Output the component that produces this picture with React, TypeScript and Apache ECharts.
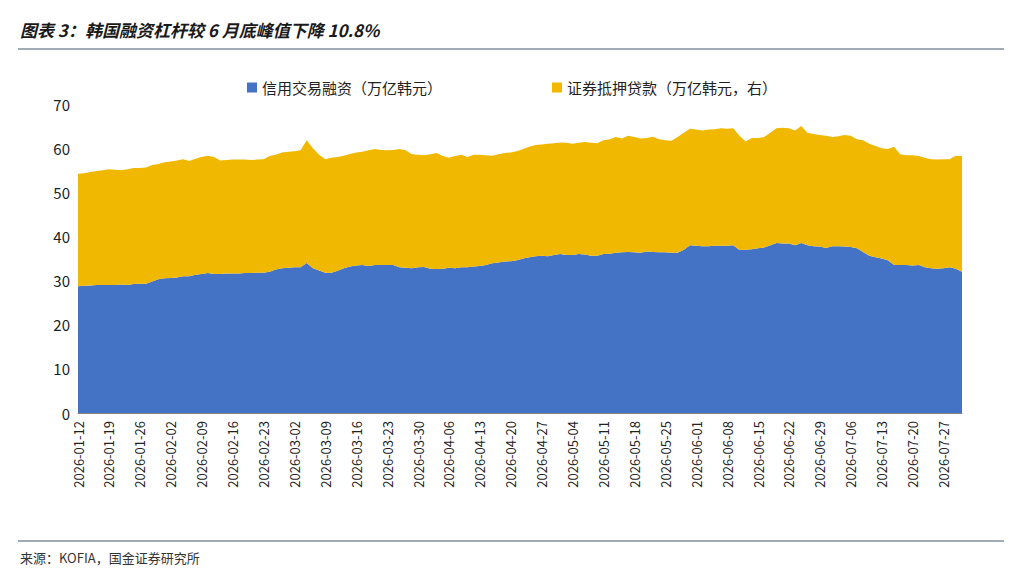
import { useEffect, useRef } from 'react';
import * as echarts from 'echarts';

// 融资余额（万亿韩元），按交易日（工作日）
const blueValues = [
  28.7, 28.8, 28.9, 29, 29,
  29, 29, 29.1, 29, 29.2,
  29.3, 29.3, 29.8, 30.3, 30.5,
  30.6, 30.7, 31, 31, 31.3,
  31.5, 31.7, 31.5, 31.5, 31.6,
  31.6, 31.6, 31.7, 31.7, 31.8,
  31.8, 32, 32.5, 32.8, 32.9,
  33, 33, 34, 32.8, 32.3,
  31.8, 31.8, 32.2, 32.8, 33.2,
  33.4, 33.5, 33.3, 33.5, 33.5,
  33.5, 33.5, 33, 32.9, 32.8,
  33, 33.1, 32.7, 32.6, 32.7,
  32.9, 32.8, 33, 33, 33.2,
  33.3, 33.5, 33.9, 34.1, 34.3,
  34.4, 34.6, 35, 35.3, 35.5,
  35.6, 35.5, 35.8, 36, 35.8,
  35.8, 36, 35.9, 35.6, 35.6,
  36, 36.1, 36.3, 36.4, 36.5,
  36.4, 36.3, 36.6, 36.5, 36.4,
  36.4, 36.3, 36.3, 37, 38,
  37.9, 37.8, 37.8, 37.9, 37.9,
  37.9, 38, 36.9, 37, 37.1,
  37.3, 37.5, 38, 38.5, 38.4,
  38.4, 38, 38.5, 38, 37.8,
  37.7, 37.4, 37.8, 37.8, 37.7,
  37.6, 37.3, 36.5, 35.6, 35.3,
  35, 34.6, 33.5, 33.5, 33.5,
  33.4, 33.5, 33, 32.8, 32.7,
  32.8, 33, 32.7, 32,
];

// 融资 + 证券抵押贷款合计（万亿韩元）
const totalValues = [
  54.2, 54.3, 54.6, 54.8, 55,
  55.2, 55.1, 55, 55.2, 55.5,
  55.5, 55.6, 56.2, 56.4, 56.8,
  57, 57.2, 57.5, 57.1, 57.6,
  58, 58.3, 58, 57.2, 57.3,
  57.4, 57.4, 57.4, 57.3, 57.4,
  57.5, 58.2, 58.5, 59, 59.2,
  59.3, 59.5, 61.8, 60, 58.5,
  57.5, 57.8, 58, 58.3, 58.7,
  59, 59.2, 59.5, 59.8, 59.6,
  59.5, 59.6, 59.8, 59.5, 58.6,
  58.5, 58.4, 58.6, 58.9, 58.2,
  57.8, 58.2, 58.5, 58, 58.5,
  58.5, 58.4, 58.3, 58.6, 58.9,
  59, 59.3, 59.8, 60.3, 60.7,
  60.8, 61, 61.1, 61.3, 61.2,
  61, 61.2, 61.4, 61.2, 61.1,
  61.8, 62, 62.5, 62.2, 62.8,
  62.5, 62.2, 62.3, 62.6, 62,
  61.8, 61.7, 62.5, 63.5, 64.4,
  64.2, 64, 64.2, 64.3, 64.5,
  64.4, 64.5, 62.8, 61.5, 62.3,
  62.3, 62.5, 63.5, 64.5, 64.6,
  64.5, 64, 65, 63.5, 63.2,
  63, 62.8, 62.5, 62.7, 63,
  62.8, 62, 61.8, 61, 60.5,
  60, 59.8, 60.3, 58.6, 58.4,
  58.4, 58.2, 57.8, 57.5, 57.4,
  57.5, 57.5, 58.3, 58.2,
];

const yellowValues = totalValues.map((t, i) => +(t - blueValues[i]).toFixed(2));

const pad = (n: number) => String(n).padStart(2, '0');
const categories: string[] = [];
{
  const d = new Date(Date.UTC(2026, 0, 12));
  while (categories.length < blueValues.length) {
    const wd = d.getUTCDay();
    if (wd !== 0 && wd !== 6) {
      categories.push(`${d.getUTCFullYear()}-${pad(d.getUTCMonth() + 1)}-${pad(d.getUTCDate())}`);
    }
    d.setUTCDate(d.getUTCDate() + 1);
  }
}

const FONT = '"Noto Sans CJK SC", "Noto Sans", sans-serif';

export default function App() {
  const ref = useRef<HTMLDivElement | null>(null);

  useEffect(() => {
    document.body.style.margin = '0';
    if (!ref.current) return undefined;
    const chart = echarts.init(ref.current, undefined, { renderer: 'svg' });
    chart.setOption({
      animation: false,
      backgroundColor: '#fff',
      textStyle: { fontFamily: FONT },
      graphic: [
        { type: 'text', left: 20, top: 21, style: { text: '图表 3：韩国融资杠杆较 6 月底峰值下降 10.8%', fontSize: 17, fontWeight: 'bold', fontStyle: 'italic', fill: '#1a1a1a', fontFamily: FONT } },
        { type: 'line', shape: { x1: 18, y1: 49, x2: 1004, y2: 49 }, style: { stroke: '#44546a', lineWidth: 1 } },
        { type: 'line', shape: { x1: 18, y1: 541, x2: 1004, y2: 541 }, style: { stroke: '#44546a', lineWidth: 1 } },
        { type: 'text', left: 20, top: 551, style: { text: '来源：KOFIA，国金证券研究所', fontSize: 13, fill: '#333', fontFamily: FONT } },
      ],
      legend: {
        top: 75,
        left: 'center',
        itemWidth: 10,
        itemHeight: 10,
        itemGap: 110,
        icon: 'rect',
        textStyle: { fontSize: 15, color: '#222' },
        data: ['信用交易融资（万亿韩元）', '证券抵押贷款（万亿韩元，右）'],
      },
      grid: { left: 78, right: 62, top: 104, bottom: 163 },
      xAxis: {
        type: 'category',
        data: categories,
        boundaryGap: false,
        axisLine: { lineStyle: { color: '#888' } },
        axisTick: { show: false },
        axisLabel: { interval: 4, rotate: 90, fontSize: 13, color: '#222' },
      },
      yAxis: {
        type: 'value',
        min: 0,
        max: 70,
        interval: 10,
        axisLine: { show: false },
        axisTick: { show: false },
        splitLine: { show: false },
        axisLabel: { fontSize: 15, color: '#222' },
      },
      series: [
        {
          name: '信用交易融资（万亿韩元）',
          type: 'line',
          stack: 'total',
          data: blueValues,
          showSymbol: false,
          lineStyle: { width: 0 },
          itemStyle: { color: '#4472c4' },
          areaStyle: { color: '#4472c4', opacity: 1 },
        },
        {
          name: '证券抵押贷款（万亿韩元，右）',
          type: 'line',
          stack: 'total',
          data: yellowValues,
          showSymbol: false,
          lineStyle: { width: 0 },
          itemStyle: { color: '#f0b800' },
          areaStyle: { color: '#f0b800', opacity: 1 },
        },
      ],
    });
    return () => chart.dispose();
  }, []);

  return <div ref={ref} style={{ width: 1024, height: 576 }} />;
}
